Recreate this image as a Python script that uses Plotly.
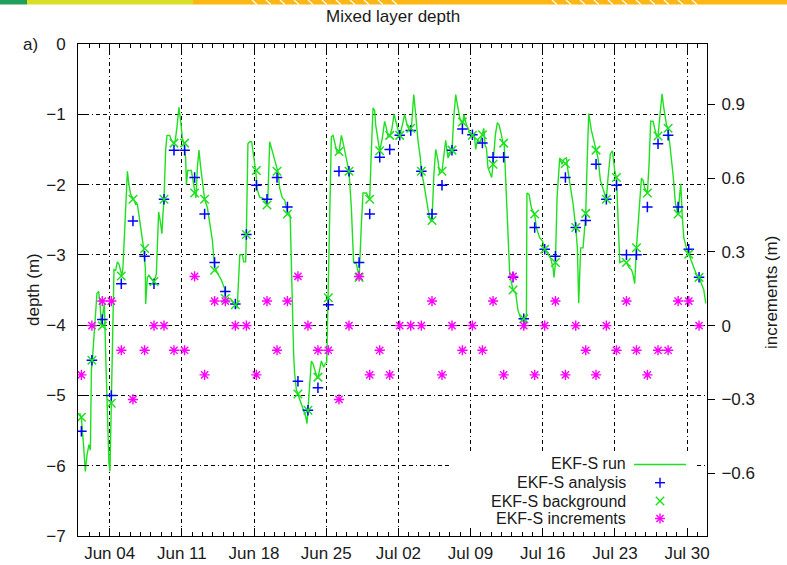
import pandas as pd
import plotly.graph_objects as go

# ---------------- data ----------------
# model run: days since 2010-06-01 00:00, depth (m)
run_days = [
    0.09, 0.26, 0.48, 0.64, 0.80, 0.99, 1.13, 1.23, 1.32, 1.57,
    1.77, 1.93, 2.06, 2.19, 2.35, 2.49, 2.61, 2.78, 2.93, 3.03,
    3.16, 3.26, 3.42, 3.58, 3.75, 3.90, 4.07, 4.19, 4.29, 4.45,
    4.62, 4.72, 4.87, 5.04, 5.33, 5.52, 5.69, 5.81, 6.07, 6.30,
    6.46, 6.49, 6.66, 6.81, 7.04, 7.30, 7.53, 7.66, 7.75, 7.92,
    8.07, 8.17, 8.27, 8.43, 8.56, 8.82, 8.99, 9.18, 9.37, 9.53,
    9.72, 9.89, 10.05, 10.21, 10.37, 10.44, 10.57, 10.92, 11.08, 11.25,
    11.37, 11.51, 11.66, 11.83, 12.05, 12.21, 12.48, 12.70, 12.96, 13.18,
    13.50, 13.83, 14.15, 14.22, 14.71, 14.96, 15.22, 15.37, 15.62, 15.87,
    16.00, 16.19, 16.26, 16.41, 16.58, 16.77, 16.97, 17.16, 17.33, 17.55,
    17.94, 18.20, 18.35, 18.52, 18.84, 19.17, 19.32, 19.49, 19.75, 19.97,
    20.23, 20.39, 20.51, 20.84, 20.94, 21.11, 21.26, 21.49, 21.75, 22.01,
    22.14, 22.23, 22.40, 22.56, 22.72, 22.89, 23.11, 23.20, 23.37, 23.53,
    23.76, 23.90, 24.05, 24.17, 24.34, 24.50, 24.66, 24.82, 25.05, 25.24,
    25.47, 25.63, 25.96, 26.21, 26.44, 26.66, 26.93, 27.12, 27.20, 27.41,
    27.57, 27.90, 28.05, 28.22, 28.36, 28.54, 28.70, 28.80, 29.02, 29.19,
    29.43, 29.67, 29.84, 29.99, 30.16, 30.38, 30.58, 30.81, 30.96, 31.13,
    31.39, 31.61, 31.84, 32.10, 32.26, 32.49, 32.68, 32.90, 33.13, 33.23,
    33.46, 33.72, 33.97, 34.14, 34.26, 34.45, 34.62, 34.84, 35.00, 35.23,
    35.40, 35.59, 35.81, 35.98, 36.20, 36.37, 36.56, 36.78, 36.95, 37.21,
    37.36, 37.60, 37.75, 37.92, 38.18, 38.35, 38.50, 38.69, 38.89, 39.15,
    39.28, 39.42, 39.54, 39.69, 39.92, 40.05, 40.18, 40.41, 40.60, 40.76,
    40.99, 41.14, 41.26, 41.40, 41.63, 41.80, 42.12, 42.38, 42.60, 42.93,
    43.15, 43.25, 43.42, 43.47, 43.67, 43.90, 44.22, 44.39, 44.71, 44.97,
    45.19, 45.51, 45.77, 46.00, 46.09, 46.23, 46.39, 46.65, 46.87, 47.07,
    47.30, 47.45, 47.71, 47.94, 48.20, 48.36, 48.49, 48.59, 48.68, 48.91,
    49.07, 49.17, 49.30, 49.46, 49.72, 49.94, 50.17, 50.36, 50.59, 50.84,
    51.17, 51.33, 51.56, 51.76, 51.99, 52.15, 52.31, 52.47, 52.89, 53.12,
    53.37, 53.60, 53.76, 53.92, 54.09, 54.34, 54.57, 54.73, 54.89, 55.15,
    55.31, 55.47, 55.70, 55.86, 56.03, 56.18, 56.35, 56.57, 56.74, 57.00,
    57.16, 57.39, 57.64, 57.87, 58.13, 58.29, 58.39, 58.52, 58.68, 58.94,
    59.16, 59.42, 59.64, 59.91, 60.16, 60.40, 60.62, 60.81,
]
run_depth = [
    -5.25, -5.32, -5.73, -6.08, -5.85, -5.70, -5.78, -4.64, -4.50, -3.97,
    -3.55, -3.52, -3.67, -4.00, -3.79, -3.69, -4.40, -5.35, -5.96, -6.08,
    -5.12, -4.16, -3.21, -3.22, -3.10, -3.13, -3.22, -3.30, -3.18, -2.61,
    -1.95, -1.81, -2.00, -2.14, -2.21, -2.28, -2.28, -2.42, -2.70, -2.91,
    -3.19, -3.70, -3.32, -3.29, -3.34, -3.39, -3.27, -2.61, -2.39, -2.53,
    -2.70, -2.42, -2.21, -1.51, -1.30, -1.30, -1.37, -1.41, -1.37, -1.18,
    -0.90, -1.10, -1.34, -1.41, -1.62, -2.00, -1.80, -1.80, -1.94, -2.11,
    -2.19, -1.76, -1.51, -1.76, -2.03, -2.21, -2.33, -2.52, -2.79, -3.18,
    -3.26, -3.36, -3.48, -3.64, -3.62, -3.67, -3.71, -3.76, -3.00, -3.00,
    -3.10, -3.10, -2.70, -1.42, -1.39, -1.39, -1.61, -1.80, -2.08, -2.18,
    -2.20, -2.27, -2.18, -1.39, -1.56, -1.76, -1.82, -2.05, -2.19, -2.22,
    -2.39, -2.41, -2.45, -4.40, -4.69, -4.92, -4.98, -5.07, -5.20, -5.30,
    -5.40, -5.21, -4.78, -4.51, -4.55, -4.64, -4.74, -4.76, -4.62, -4.51,
    -4.60, -4.55, -4.53, -3.61, -2.50, -1.32, -1.30, -1.40, -1.54, -1.55,
    -1.30, -1.40, -1.62, -1.81, -2.33, -3.11, -3.13, -3.25, -3.32, -2.57,
    -2.12, -2.12, -2.17, -2.21, -1.60, -0.91, -0.95, -1.15, -1.36, -1.52,
    -1.35, -1.10, -1.20, -1.31, -1.32, -1.20, -1.00, -1.12, -1.21, -1.31,
    -1.15, -1.00, -1.15, -1.24, -1.20, -0.72, -1.00, -1.37, -1.62, -1.81,
    -1.98, -2.24, -2.43, -2.52, -2.51, -1.84, -1.50, -1.66, -1.84, -1.81,
    -1.55, -1.37, -1.62, -1.58, -1.51, -1.05, -0.72, -0.91, -1.05, -1.15,
    -1.00, -1.15, -1.20, -1.25, -1.31, -1.28, -1.50, -1.35, -1.42, -1.29,
    -1.20, -1.45, -1.48, -1.76, -1.86, -1.90, -1.71, -1.29, -1.12, -1.15,
    -1.29, -1.41, -1.42, -1.95, -2.90, -3.28, -3.50, -3.55, -3.79, -3.93,
    -3.95, -4.05, -3.83, -2.12, -2.14, -2.33, -2.43, -2.62, -2.76, -2.80,
    -2.92, -3.00, -3.05, -3.18, -3.32, -3.11, -2.18, -1.62, -1.71, -1.64,
    -1.62, -1.81, -2.05, -2.27, -2.61, -2.90, -3.69, -3.27, -2.90, -2.90,
    -2.56, -2.43, -1.71, -0.99, -1.23, -1.37, -1.52, -1.62, -1.94, -2.05,
    -2.21, -1.91, -1.56, -1.52, -1.81, -1.90, -2.42, -3.11, -3.08, -3.11,
    -3.18, -3.21, -3.28, -3.41, -2.90, -2.43, -1.91, -1.94, -2.05, -2.12,
    -1.71, -1.10, -1.10, -1.20, -1.31, -1.31, -0.99, -0.71, -0.91, -1.15,
    -1.20, -1.48, -1.86, -2.27, -2.43, -2.13, -1.99, -2.42, -2.76, -2.90,
    -2.99, -3.07, -3.18, -3.28, -3.32, -3.41, -3.50, -3.69,
]

# assimilation times (days since 2010-06-01 00:00)
obs_days = [
    0.26, 1.28, 2.29, 3.16, 4.13, 5.26, 6.39, 7.30, 8.27, 9.24,
    10.27, 11.24, 12.21, 13.18, 14.22, 15.19, 16.26, 17.23, 18.26, 19.23,
    20.24, 21.26, 22.23, 23.20, 24.21, 25.24, 26.21, 27.19, 28.22, 29.19,
    30.16, 31.13, 32.20, 33.23, 34.26, 35.23, 36.20, 37.21, 38.18, 39.15,
    40.18, 41.21, 42.12, 43.16, 44.22, 45.19, 46.23, 47.20, 48.20, 49.17,
    50.17, 51.17, 52.15, 53.12, 54.09, 55.15, 56.18, 57.16, 58.13, 59.16,
    60.16,
]
analysis = [
    -5.51, -4.50, -3.92, -5.00, -3.41, -2.52, -3.02, -3.41, -2.21, -1.51,
    -1.51, -1.90, -2.42, -3.11, -3.52, -3.70, -2.71, -2.01, -2.21, -1.90,
    -2.32, -4.80, -5.21, -4.89, -3.71, -1.81, -1.81, -3.11, -2.42, -1.61,
    -1.50, -1.30, -1.23, -1.81, -2.42, -2.01, -1.51, -1.21, -1.29, -1.41,
    -1.61, -1.61, -3.32, -3.91, -2.61, -2.92, -3.02, -1.90, -2.61, -2.51,
    -1.71, -2.21, -2.01, -3.00, -3.00, -2.32, -1.42, -1.30, -2.32, -2.92,
    -3.32,
]
background = [
    -5.31, -4.50, -4.01, -5.11, -3.30, -2.21, -2.91, -3.38, -2.21, -1.41,
    -1.41, -2.12, -2.21, -3.22, -3.62, -3.71, -2.71, -1.80, -2.29, -1.81,
    -2.42, -4.98, -5.21, -4.74, -3.61, -1.53, -1.81, -3.32, -2.21, -1.52,
    -1.30, -1.30, -1.20, -1.81, -2.51, -1.81, -1.51, -1.11, -1.30, -1.29,
    -1.71, -1.41, -3.50, -3.91, -2.42, -2.92, -3.11, -1.70, -2.61, -2.41,
    -1.51, -2.21, -1.90, -3.11, -2.90, -2.12, -1.31, -1.20, -2.42, -2.99,
    -3.32,
]
increments = [
    -0.2, 0.0, 0.1, 0.1, -0.1, -0.3, -0.1, 0.0, 0.0, -0.1,
    -0.1, 0.2, -0.2, 0.1, 0.1, 0.0, 0.0, -0.2, 0.1, -0.1,
    0.1, 0.2, 0.0, -0.1, -0.1, -0.3, 0.0, 0.2, -0.2, -0.1,
    -0.2, 0.0, 0.0, 0.0, 0.1, -0.2, 0.0, -0.1, 0.0, -0.1,
    0.1, -0.2, 0.2, 0.0, -0.2, 0.0, 0.1, -0.2, 0.0, -0.1,
    -0.2, 0.0, -0.1, 0.1, -0.1, -0.2, -0.1, -0.1, 0.1, 0.1,
    0.0,
]

depth_ticks = [0, -1, -2, -3, -4, -5, -6, -7]
incr_ticks = [0.9, 0.6, 0.3, 0.0, -0.3, -0.6]
series_names = ["EKF-S run", "EKF-S analysis", "EKF-S background", "EKF-S increments"]

# ---------------- figure ----------------
base = pd.Timestamp("2010-06-01 00:00")
run_t = base + pd.to_timedelta(run_days, unit="D")
obs_t = base + pd.to_timedelta(obs_days, unit="D")

GREEN = "#1fe01f"
BLUE = "#0000ff"
MAGENTA = "#ff00ff"
FONT = "Liberation Sans, Arial, Helvetica, sans-serif"
TXT = "#1a1a1a"

fig = go.Figure()
fig.add_trace(go.Scatter(x=run_t, y=run_depth, mode="lines", name=series_names[0],
                         line=dict(color=GREEN, width=1.4), showlegend=False))
fig.add_trace(go.Scatter(x=obs_t, y=analysis, mode="markers", name=series_names[1],
                         marker=dict(symbol="cross-thin-open", size=7.5, color=BLUE,
                                     line=dict(color=BLUE, width=1.5)), showlegend=False))
fig.add_trace(go.Scatter(x=obs_t, y=background, mode="markers", name=series_names[2],
                         marker=dict(symbol="x-thin-open", size=8.5, color=GREEN,
                                     line=dict(color=GREEN, width=1.5)), showlegend=False))
fig.add_trace(go.Scatter(x=obs_t, y=increments, mode="markers", name=series_names[3],
                         yaxis="y2",
                         marker=dict(symbol="asterisk-open", size=8.5, color=MAGENTA,
                                     line=dict(color=MAGENTA, width=1.4)), showlegend=False))

GRID_DASH = "4px,3px,4px,3px,1px,3px"
fig.update_layout(
    template="none",
    width=787, height=565, autosize=False,
    margin=dict(l=78, r=80, t=44, b=29, pad=0, autoexpand=False),
    paper_bgcolor="white", plot_bgcolor="white",
    font=dict(family=FONT, size=17, color=TXT),
    showlegend=False,
    xaxis=dict(
        type="date", automargin=False,
        range=["2010-05-31 22:20", "2010-07-31 22:20"],
        tick0="2010-06-04", dtick=7 * 86400000, tickformat="%b %d",
        ticks="inside", ticklen=8, tickwidth=1, tickcolor="black",
        showline=True, linecolor="black", linewidth=1, mirror="ticks",
        showgrid=True, gridcolor="black", gridwidth=1, griddash=GRID_DASH,
        zeroline=False, ticklabelstandoff=2,
        tickfont=dict(family=FONT, size=17, color=TXT),
        minor=dict(tick0="2010-06-04", dtick=86400000, ticks="inside",
                   ticklen=4, tickcolor="black", showgrid=False),
    ),
    yaxis=dict(
        automargin=False,
        range=[-7, 0], tickvals=depth_ticks,
        ticks="inside", ticklen=8, tickcolor="black",
        showline=True, linecolor="black", linewidth=1, mirror=True,
        showgrid=True, gridcolor="black", gridwidth=1, griddash=GRID_DASH,
        zeroline=False, ticklabelstandoff=8,
        tickfont=dict(family=FONT, size=17, color=TXT),
    ),
    yaxis2=dict(
        automargin=False,
        overlaying="y", side="right",
        range=[-0.855, 1.145], tickvals=incr_ticks,
        ticks="outside", ticklen=7, tickcolor="black",
        showgrid=False, zeroline=False, showline=False,
        ticklabelstandoff=3,
        tickfont=dict(family=FONT, size=17, color=TXT),
    ),
)

# ---------- helpers for pixel -> paper placement of decorations ----------
PL, PR, PT, PB = 78, 707, 44, 536
def px(x):
    return (x - PL) / (PR - PL)
def py(y):
    return (PB - y) / (PB - PT)

shapes = []
annots = []

# top coloured banner (slide decoration)
for x0, x1, col in [(0, 27, "#1f9e5c"), (27, 193, "#d9df25"), (193, 787, "#fdb714")]:
    shapes.append(dict(type="rect", xref="paper", yref="paper",
                       x0=px(x0), x1=px(x1), y0=py(4.5), y1=py(0),
                       line=dict(width=0), fillcolor=col, layer="above"))
for start, stop in [(252, 396), (552, 706)]:
    for hx in range(start, stop, 14):
        shapes.append(dict(type="line", xref="paper", yref="paper",
                           xsizemode="pixel", ysizemode="pixel",
                           xanchor=px(hx), yanchor=py(0),
                           x0=0, x1=5, y0=0, y1=-4.5,
                           line=dict(color="white", width=1.2), layer="above"))

# legend box (opaque, no border) with right-aligned labels and samples on the right
shapes.append(dict(type="rect", xref="paper", yref="paper",
                   x0=px(450), x1=px(694), y0=py(528), y1=py(454),
                   line=dict(width=0), fillcolor="white", layer="above"))
leg_y = [463.5, 482.7, 501.0, 518.0]
for name, yy in zip(series_names, leg_y):
    annots.append(dict(text=name, xref="paper", yref="paper", x=px(628), y=py(yy),
                       xanchor="right", yanchor="middle", showarrow=False,
                       font=dict(family=FONT, size=16, color=TXT)))
sx = px(660)
# run line sample
shapes.append(dict(type="line", xref="paper", yref="paper",
                   x0=px(634), x1=px(686), y0=py(464.5), y1=py(464.5),
                   line=dict(color=GREEN, width=1.4), layer="above"))
def pix_line(xa, ya, x0, y0, x1, y1, col):
    shapes.append(dict(type="line", xref="paper", yref="paper",
                       xsizemode="pixel", ysizemode="pixel",
                       xanchor=xa, yanchor=ya, x0=x0, y0=y0, x1=x1, y1=y1,
                       line=dict(color=col, width=1.4), layer="above"))
# analysis "+"
ya = py(482.7)
pix_line(sx, ya, -5, 0, 5, 0, BLUE)
pix_line(sx, ya, 0, -5, 0, 5, BLUE)
# background "x"
yb = py(501.0)
pix_line(sx, yb, -4.2, -4.2, 4.2, 4.2, GREEN)
pix_line(sx, yb, -4.2, 4.2, 4.2, -4.2, GREEN)
# increments "asterisk"
yi = py(518.5)
pix_line(sx, yi, -5, 0, 5, 0, MAGENTA)
pix_line(sx, yi, 0, -5, 0, 5, MAGENTA)
pix_line(sx, yi, -3.6, -3.6, 3.6, 3.6, MAGENTA)
pix_line(sx, yi, -3.6, 3.6, 3.6, -3.6, MAGENTA)

# titles
annots.append(dict(text="Mixed layer depth", xref="paper", yref="paper",
                   x=0.5, y=py(17), xanchor="center", yanchor="middle", showarrow=False,
                   font=dict(family=FONT, size=17, color=TXT)))
annots.append(dict(text="a)", xref="paper", yref="paper",
                   x=px(30), y=py(44), xanchor="center", yanchor="middle", showarrow=False,
                   font=dict(family=FONT, size=17, color=TXT)))
annots.append(dict(text="depth (m)", xref="paper", yref="paper",
                   x=px(33), y=py(290), xanchor="center", yanchor="middle", showarrow=False,
                   textangle=-90, font=dict(family=FONT, size=17, color=TXT)))
annots.append(dict(text="increments (m)", xref="paper", yref="paper",
                   x=px(771), y=py(293), xanchor="center", yanchor="middle", showarrow=False,
                   textangle=-90, font=dict(family=FONT, size=17, color=TXT)))

fig.update_layout(shapes=shapes, annotations=annots)
fig.write_html("out.html")
